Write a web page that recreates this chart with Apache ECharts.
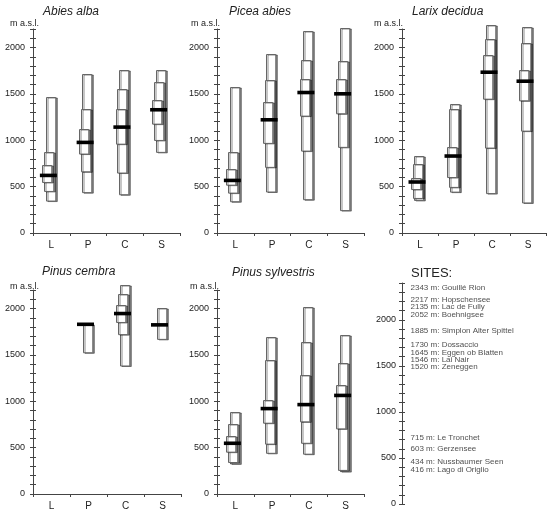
<!DOCTYPE html>
<html><head><meta charset="utf-8">
<script src="https://cdn.jsdelivr.net/npm/echarts@6/dist/echarts.min.js"></script>
<style>html,body{margin:0;padding:0;background:#fff}#c{width:547px;height:515px}</style>
</head><body><div id="c"></div>
<script>
// Categories and panel titles
const categories = ['L', 'P', 'C', 'S'];
const speciesNames = ['Abies alba', 'Picea abies', 'Larix decidua', 'Pinus cembra', 'Pinus sylvestris'];
// each row: [outer low, middle low, inner low, median, inner high, middle high, outer high] (m a.s.l.)
const abiesAlba = [
  [348, 456, 546, 621, 729, 876, 1465],
  [442, 664, 855, 977, 1120, 1336, 1716],
  [420, 657, 962, 1142, 1336, 1558, 1760],
  [873, 1002, 1174, 1329, 1429, 1627, 1756]
];
const piceaAbies = [
  [341, 431, 521, 567, 690, 869, 1573],
  [445, 711, 977, 1221, 1418, 1648, 1928],
  [366, 890, 1271, 1515, 1666, 1867, 2180],
  [251, 934, 1289, 1501, 1659, 1860, 2215]
];
const larixDecidua = [
  [356, 377, 474, 550, 593, 743, 830],
  [445, 496, 603, 830, 927, 1336, 1390],
  [431, 926, 1454, 1734, 1925, 2097, 2244],
  [334, 1102, 1436, 1637, 1763, 2047, 2226]
];
const pinusCembra = [
  [null, null, null, null, null, null, null],
  [1530, null, null, 1830, null, null, 1835],
  [1383, 1728, 1860, 1946, 2043, 2161, 2251],
  [1674, null, null, 1824, null, null, 2007]
];
const pinusSylvestris = [
  [327, 345, 453, 547, 622, 755, 881],
  [442, 540, 766, 921, 1011, 1442, 1691],
  [432, 550, 781, 964, 1281, 1637, 2014],
  [243, 260, 710, 1063, 1178, 1413, 1711]
];
// Sites
const siteAltitudes = [2343, 2217, 2135, 2052, 1885, 1730, 1645, 1546, 1520, 715, 603, 434, 416];
const siteNames = ['Gouillé Rion', 'Hopschensee', 'Lac de Fully', 'Boehnigsee', 'Simplon Alter Spittel',
  'Dossaccio', 'Eggen ob Blatten', 'Lai Nair', 'Zeneggen', 'Le Tronchet', 'Gerzensee', 'Nussbaumer Seen', 'Lago di Origlio'];
const yLabelStep = 500;
const yTickStep = 100;
const panelMax = 2200;
const sitesMax = 2400;

const speciesData = [abiesAlba, piceaAbies, larixDecidua, pinusCembra, pinusSylvestris];

// label nudges (px) so that close sites do not overlap
const siteLabelNudge = [0, 0, -0.5, 0, 0, 0, 0, -2, 3, 0, 0, -2.5, 4];

const FONT = '"Liberation Sans", Arial, sans-serif';
const AX = '#444';
const grids = [
  {left: 33, top: 29, width: 147, height: 204},
  {left: 217, top: 29, width: 147, height: 204},
  {left: 402, top: 29, width: 144, height: 204},
  {left: 33, top: 290, width: 148, height: 204},
  {left: 217, top: 290, width: 147, height: 204},
  {left: 402, top: 283, width: 140, height: 221}
];
const titlePos = [
  {left: 43, top: 6}, {left: 229, top: 6}, {left: 412, top: 6},
  {left: 42, top: 266}, {left: 232, top: 267}
];
const unitPos = [[39, 24], [220, 24], [403, 24], [39, 287], [219, 287]];

function renderItem(params, api) {
  const cat = api.value(0);
  const cx = api.coord([cat, 0])[0];
  const yOf = v => api.coord([cat, v])[1];
  const bw = 9.3;
  const children = [];
  const boxes = [[1, 7, -1], [2, 6, -2.8], [3, 5, -4.5]];
  boxes.forEach(([a, b, off]) => {
    const lo = api.value(a), hi = api.value(b);
    if (lo == null || hi == null || isNaN(lo) || isNaN(hi)) return;
    const y1 = yOf(hi), y2 = yOf(lo);
    children.push({
      type: 'rect',
      shape: {x: Math.round(cx + off - bw / 2) + 0.5, y: Math.round(y1) + 0.5, width: bw, height: y2 - y1},
      style: {fill: '#fff', stroke: '#666', lineWidth: 1,
        shadowColor: 'rgba(0,0,0,0.45)', shadowOffsetX: 1.5, shadowOffsetY: 0.5, shadowBlur: 0}
    });
  });
  const med = api.value(4);
  if (med != null && !isNaN(med)) {
    const ym = yOf(med);
    children.push({
      type: 'line',
      shape: {x1: cx - 3 - 8.5, y1: ym, x2: cx - 3 + 8.5, y2: ym},
      style: {stroke: '#000', lineWidth: 3.6}
    });
  }
  return {type: 'group', children};
}

const xAxis = [], yAxis = [], series = [], title = [], graphic = [];
speciesData.forEach((rows, k) => {
  const xBase = {gridIndex: k, type: 'category', data: categories, boundaryGap: true,
    axisLine: {show: true, lineStyle: {color: AX, width: 1}},
    splitLine: {show: false}};
  xAxis.push(Object.assign({}, xBase, {
    axisTick: {show: true, length: 3, lineStyle: {color: AX}},
    axisLabel: {fontSize: 10, color: '#222', margin: 7, fontFamily: FONT}
  }));
  xAxis.push(Object.assign({}, xBase, {
    axisLine: {show: false},
    axisTick: {show: true, inside: true, length: 3, lineStyle: {color: AX}},
    axisLabel: {show: false}
  }));
  const yBase = {gridIndex: k, type: 'value', min: 0, max: panelMax, interval: yTickStep, position: 'left',
    splitLine: {show: false}};
  yAxis.push(Object.assign({}, yBase, {
    axisLine: {show: true, lineStyle: {color: AX, width: 1}},
    axisTick: {show: true, length: 3, lineStyle: {color: AX}},
    axisLabel: {formatter: v => (v % yLabelStep === 0 ? String(v) : ''), fontSize: 9, color: '#222', margin: 8, fontFamily: FONT}
  }));
  yAxis.push(Object.assign({}, yBase, {
    axisLine: {show: false},
    axisTick: {show: true, inside: true, length: 3, lineStyle: {color: AX}},
    axisLabel: {show: false}
  }));
  series.push({
    type: 'custom', xAxisIndex: 2 * k, yAxisIndex: 2 * k, clip: false,
    renderItem,
    data: rows.map((r, i) => [i].concat(r.map(v => (v == null ? '-' : v))))
  });
  title.push({text: speciesNames[k], left: titlePos[k].left, top: titlePos[k].top, padding: 0,
    textStyle: {fontSize: 12, fontStyle: 'italic', fontWeight: 'normal', color: '#222', fontFamily: FONT}});
  graphic.push({type: 'text', x: unitPos[k][0], y: unitPos[k][1], silent: true,
    style: {text: 'm a.s.l.', align: 'right', verticalAlign: 'middle', font: '9px ' + FONT, fill: '#222'}});
});

// Sites panel
xAxis.push({gridIndex: 5, type: 'value', min: 0, max: 1, show: false});
const sBase = {gridIndex: 5, type: 'value', min: 0, max: sitesMax, interval: yTickStep, position: 'left', splitLine: {show: false}};
yAxis.push(Object.assign({}, sBase, {
  axisLine: {show: true, lineStyle: {color: AX}},
  axisTick: {show: true, length: 3, lineStyle: {color: AX}},
  axisLabel: {formatter: v => (v % yLabelStep === 0 ? String(v) : ''), fontSize: 9, color: '#222', margin: 6, fontFamily: FONT}
}));
yAxis.push(Object.assign({}, sBase, {
  axisLine: {show: false},
  axisTick: {show: true, inside: true, length: 3, lineStyle: {color: AX}},
  axisLabel: {show: false}
}));
series.push({
  type: 'scatter', xAxisIndex: 10, yAxisIndex: 10, symbolSize: 1,
  itemStyle: {color: 'rgba(0,0,0,0)'},
  data: siteAltitudes.map((a, i) => ({
    value: [0, a, siteNames[i]],
    label: {offset: [0, siteLabelNudge[i]]}
  })),
  label: {show: true, position: 'right', distance: 8, fontSize: 8, color: '#222', fontFamily: FONT,
    formatter: p => p.value[1] + ' m: ' + p.value[2]}
});
title.push({text: 'SITES:', left: 411, top: 267, padding: 0,
  textStyle: {fontSize: 13, fontWeight: 'normal', color: '#222', fontFamily: FONT}});

const chart = echarts.init(document.getElementById('c'), null, {renderer: 'canvas'});
chart.setOption({
  animation: false,
  backgroundColor: '#fff',
  title, grid: grids, xAxis, yAxis, series, graphic
});
</script>
</body></html>
